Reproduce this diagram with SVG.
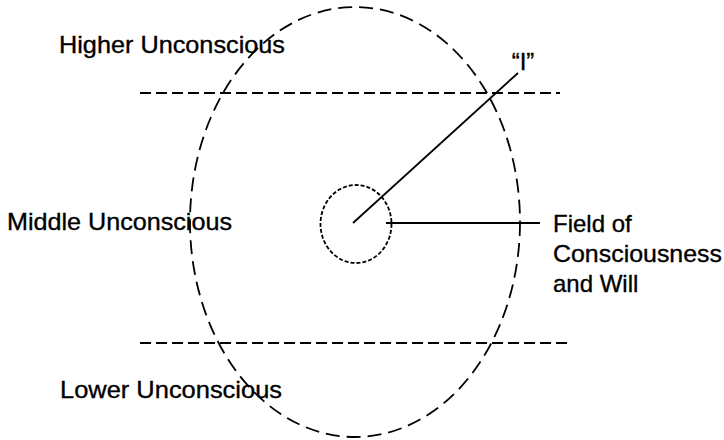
<svg xmlns="http://www.w3.org/2000/svg" width="724" height="440" viewBox="0 0 724 440">
<style>
.t{font-family:"Liberation Sans",Arial,sans-serif;font-size:24px;fill:#000;stroke:#000;stroke-width:0.35}
.dash{fill:none;stroke:#000;stroke-width:1.8;stroke-dasharray:11 5}
.ln{stroke:#000;stroke-width:1.8;fill:none}
</style>
<rect width="724" height="440" fill="#fff"/>
<g id="outer-field">
<ellipse cx="355" cy="222" rx="165" ry="215" fill="none" stroke="#000" stroke-width="1.8" stroke-dasharray="14 7"/>
</g>
<g id="boundaries">
<line x1="140" y1="93" x2="560" y2="93" class="dash"/>
<line x1="140" y1="343" x2="572" y2="343" class="dash"/>
</g>
<g id="field-of-consciousness">
<ellipse cx="356" cy="224" rx="35.5" ry="39" fill="none" stroke="#000" stroke-width="1.8" stroke-dasharray="4 2"/>
</g>
<g id="connectors">
<line x1="353" y1="223" x2="518" y2="73" class="ln"/>
<line x1="386" y1="223" x2="540" y2="223" class="ln"/>
</g>
<g id="labels">
<text class="t" x="59" y="53" textLength="226" lengthAdjust="spacingAndGlyphs">Higher Unconscious</text>
<text class="t" x="7" y="230" textLength="225" lengthAdjust="spacingAndGlyphs">Middle Unconscious</text>
<text class="t" x="60" y="398" textLength="222" lengthAdjust="spacingAndGlyphs">Lower Unconscious</text>
<text class="t" x="523" y="70" text-anchor="middle">“I”</text>
<text class="t" x="553" y="232">Field of</text>
<text class="t" x="553" y="262" textLength="169" lengthAdjust="spacingAndGlyphs">Consciousness</text>
<text class="t" x="553" y="292">and Will</text>
</g>
</svg>
